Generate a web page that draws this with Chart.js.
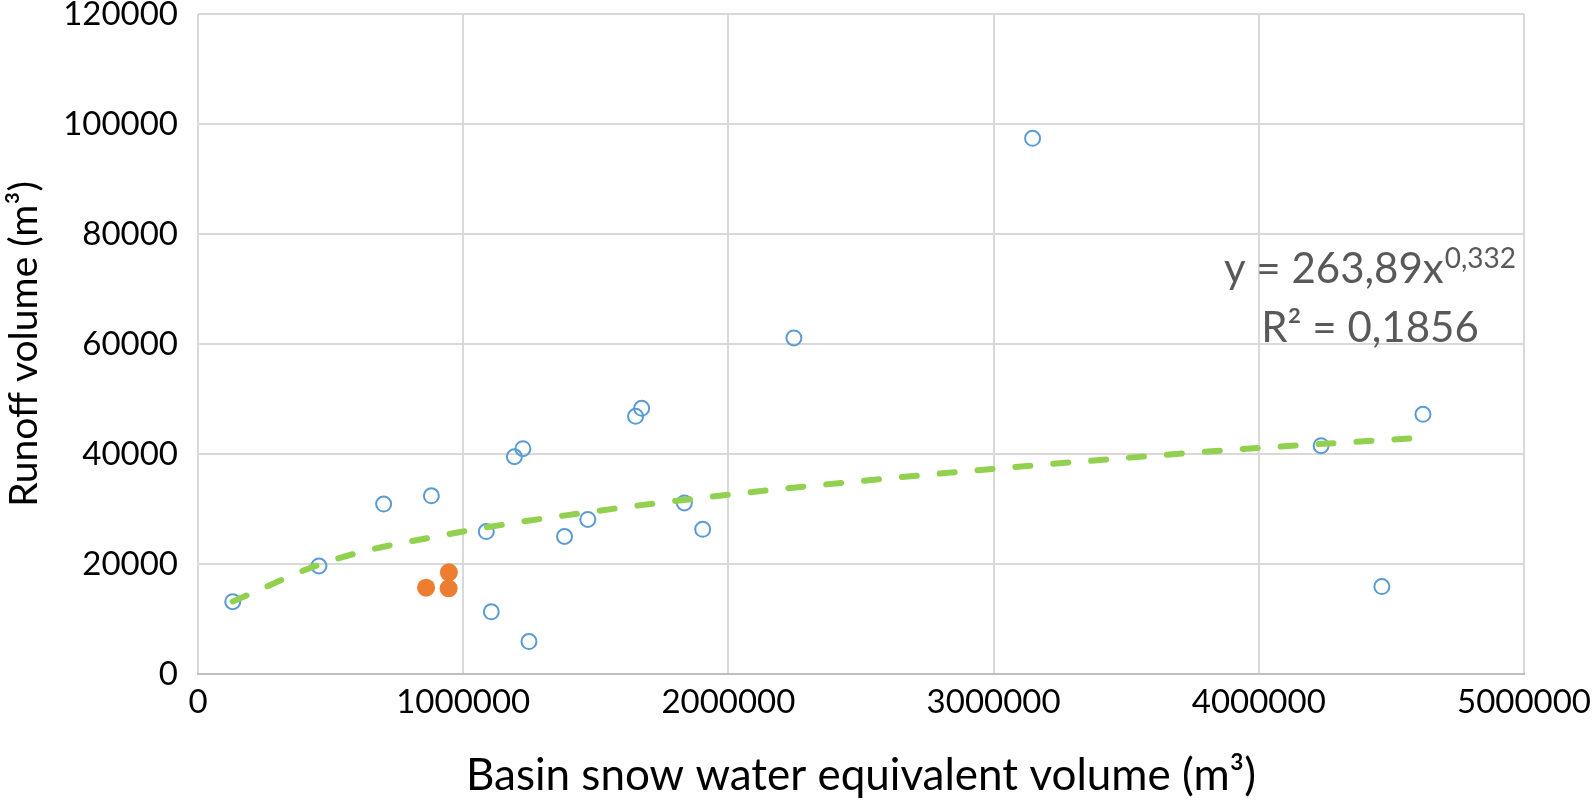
<!DOCTYPE html>
<html>
<head>
<meta charset="utf-8">
<script src="https://cdn.jsdelivr.net/npm/chart.js@4.4.1/dist/chart.umd.min.js"></script>
<style>
  html, body { margin: 0; padding: 0; background: #fff; }
  #wrap { width: 1593px; height: 800px; }
</style>
</head>
<body>
<div id="wrap"><canvas id="chart"></canvas></div>
<script>
// observed basins (m3)
const sweX = [131000, 456000, 700000, 880000, 1087000, 1106000, 1193000, 1225000, 1248000, 1382000,
  1470000, 1650000, 1673000, 1834000, 1903000, 2247000, 3147000, 4235000, 4464000, 4619000];
const runoffY = [13150, 19640, 30900, 32400, 25900, 11300, 39500, 40960, 5900, 25000,
  28100, 46850, 48300, 31100, 26300, 61100, 97400, 41510, 15900, 47220];

// highlighted years
const hiX = [860000, 945000, 946000];
const hiY = [15700, 15580, 18490];

// power trendline
const trendX = [131000, 500000, 1000000, 1500000, 2000000, 2500000, 3000000, 3500000, 4000000, 4615000];
const trendY = [13200, 20600, 25900, 29600, 32600, 35100, 37300, 39300, 41100, 42960];

const xTicks = [0, 1000000, 2000000, 3000000, 4000000, 5000000];
const yTicks = [0, 20000, 40000, 60000, 80000, 100000, 120000];

const eqMain = "y = 263,89x";
const eqSup = "0,332";
const eqR2 = "R² = 0,1856";

const toPts = (xs, ys) => xs.map((x, i) => ({ x: x, y: ys[i] }));

const equationLabel = {
  id: "equationLabel",
  afterDraw(chart) {
    const ctx = chart.ctx;
    ctx.save();
    ctx.fillStyle = "#595959";
    ctx.textBaseline = "alphabetic";
    ctx.font = "28px Lato";
    ctx.textAlign = "right";
    const supW = ctx.measureText(eqSup).width;
    ctx.fillText(eqSup, 1516, 268);
    ctx.font = "42px Lato";
    ctx.fillText(eqMain, 1516 - supW - 1, 283);
    ctx.textAlign = "center";
    ctx.fillText(eqR2, 1370, 342);
    ctx.restore();
  }
};

const ctx = document.getElementById("chart").getContext("2d");
new Chart(ctx, {
  type: "scatter",
  data: {
    datasets: [
      {
        label: "Trend",
        data: toPts(trendX, trendY),
        showLine: true,
        borderColor: "#92D050",
        borderWidth: 6,
        borderDash: [15, 23],
        borderCapStyle: "round",
        cubicInterpolationMode: "monotone",
        pointRadius: 0,
        order: 0
      },
      {
        label: "Highlighted",
        data: toPts(hiX, hiY),
        backgroundColor: "#ED7D31",
        borderColor: "#ED7D31",
        borderWidth: 0,
        pointRadius: 9,
        order: 1
      },
      {
        label: "Observed",
        data: toPts(sweX, runoffY),
        backgroundColor: "rgba(0,0,0,0)",
        borderColor: "#5B9BD5",
        borderWidth: 2,
        pointRadius: 7.5,
        order: 2
      }
    ]
  },
  options: {
    responsive: true,
    maintainAspectRatio: false,
    animation: false,
    layout: { padding: 0 },
    plugins: {
      legend: { display: false },
      tooltip: { enabled: false }
    },
    scales: {
      x: {
        type: "linear",
        min: 0,
        max: 5000000,
        afterBuildTicks: (scale) => { scale.ticks = xTicks.map(v => ({ value: v })); },
        afterFit: (scale) => { scale.height = 126; scale.paddingRight = 69; scale.paddingLeft = 0; },
        grid: { color: "#d9d9d9", lineWidth: 2, drawTicks: false },
        border: { color: "#bfbfbf", width: 2 },
        ticks: {
          color: "#000",
          padding: 14,
          maxRotation: 0,
          font: { family: "Lato", size: 33, lineHeight: 0.85 },
          callback: (v) => String(v)
        },
        title: {
          display: true,
          text: "Basin snow water equivalent volume (m³)",
          color: "#000",
          font: { family: "Lato", size: 44, lineHeight: 1.0 },
          padding: { top: 0, bottom: 2 }
        }
      },
      y: {
        type: "linear",
        min: 0,
        max: 120000,
        afterBuildTicks: (scale) => { scale.ticks = yTicks.map(v => ({ value: v })); },
        afterFit: (scale) => { scale.width = 198; scale.paddingTop = 14; scale.paddingBottom = 0; },
        grid: { color: "#d9d9d9", lineWidth: 2, drawTicks: false },
        border: { display: false },
        ticks: {
          color: "#000",
          padding: 20,
          font: { family: "Lato", size: 33, lineHeight: 0.85 },
          callback: (v) => String(v)
        },
        title: {
          display: true,
          text: "Runoff volume (m³)",
          color: "#000",
          font: { family: "Lato", size: 39, lineHeight: 1.0 },
          padding: { top: 5, bottom: 0 }
        }
      }
    }
  },
  plugins: [equationLabel]
});
</script>
</body>
</html>
